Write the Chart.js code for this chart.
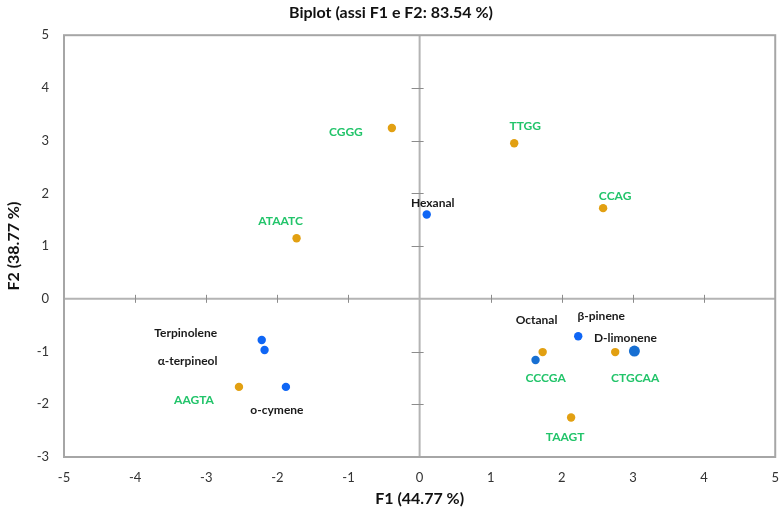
<!DOCTYPE html>
<html>
<head>
<meta charset="utf-8">
<script src="https://cdn.jsdelivr.net/npm/chart.js@4.4.1/dist/chart.umd.min.js"></script>
<style>
html,body{margin:0;padding:0;background:#fff;}
#wrap{width:784px;height:512px;}
</style>
</head>
<body>
<div id="wrap"><canvas id="c" width="784" height="512"></canvas></div>
<script>
// ---- data ----
const varLabels = ["Hexanal","Terpinolene","α-terpineol","o-cymene","Octanal","β-pinene","D-limonene"];
const varF1 = [0.10, -2.22, -2.18, -1.88, 1.63, 2.23, 3.02];
const varF2 = [1.60, -0.78, -0.97, -1.67, -1.16, -0.71, -0.99];

const obsLabels = ["CGGG","ATAATC","TTGG","CCAG","AAGTA","CCCGA","CTGCAA","TAAGT"];
const obsF1 = [-0.39, -1.73, 1.33, 2.58, -2.54, 1.73, 2.75, 2.13];
const obsF2 = [3.24, 1.15, 2.95, 1.72, -1.67, -1.01, -1.01, -2.25];

const xTicks = [-5,-4,-3,-2,-1,0,1,2,3,4,5];
const yTicks = [-3,-2,-1,0,1,2,3,4,5];

// ---- label placement (pixel offsets from the point) ----
const varOffsets = [[6,-11],[-76,-7],[-77,11],[-9,23],[1,-40],[23,-20],[-9,-13]];
const obsOffsets = [[-46,4],[-16,-17],[11,-17],[12,-12],[-45,13],[3,26],[20,26],[-6,20]];

const BLUE = '#0f66f5';
const DBLUE = '#176fd2';
const ORANGE = '#e2a012';
const GREEN = '#22c46a';

const varColors = varLabels.map((l,i)=> (i===4||i===6) ? DBLUE : BLUE);
const varRadius = varLabels.map((l,i)=> i===6 ? 5.5 : 4.2);

const labelFont = "bold 12px Lato, 'Open Sans', sans-serif";

const decor = {
  id:'decor',
  beforeDatasetsDraw(chart){
    const {ctx, chartArea:a, scales:{x,y}} = chart;
    ctx.save();
    ctx.strokeStyle = '#b4b4b4';
    ctx.lineWidth = 2;
    const x0 = x.getPixelForValue(0), y0 = y.getPixelForValue(0);
    ctx.beginPath();
    ctx.moveTo(x0, a.top); ctx.lineTo(x0, a.bottom);
    ctx.moveTo(a.left, y0); ctx.lineTo(a.right, y0);
    ctx.stroke();
    ctx.lineWidth = 1;
    ctx.strokeStyle = '#8c8c8c';
    ctx.beginPath();
    xTicks.forEach(v=>{ if(v===-5||v===5||v===0) return; const px=Math.round(x.getPixelForValue(v))+0.5; ctx.moveTo(px,y0-4); ctx.lineTo(px,y0+4);});
    yTicks.forEach(v=>{ if(v===-3||v===5||v===0) return; const py=Math.round(y.getPixelForValue(v))+0.5; ctx.moveTo(x0-8,py); ctx.lineTo(x0+4,py);});
    ctx.stroke();
    ctx.strokeStyle = '#a6a6a6';
    ctx.lineWidth = 2;
    ctx.strokeRect(a.left, a.top, a.right-a.left, a.bottom-a.top);
    ctx.restore();
  },
  afterDatasetsDraw(chart){
    const {ctx, scales:{x,y}} = chart;
    ctx.save();
    ctx.font = labelFont;
    ctx.textAlign = 'center';
    ctx.textBaseline = 'middle';
    ctx.fillStyle = '#1a1a1a';
    varLabels.forEach((l,i)=>{
      ctx.fillText(l, x.getPixelForValue(varF1[i])+varOffsets[i][0], y.getPixelForValue(varF2[i])+varOffsets[i][1]);
    });
    ctx.fillStyle = GREEN;
    obsLabels.forEach((l,i)=>{
      ctx.fillText(l, x.getPixelForValue(obsF1[i])+obsOffsets[i][0], y.getPixelForValue(obsF2[i])+obsOffsets[i][1]);
    });
    ctx.restore();
  }
};

new Chart(document.getElementById('c'), {
  type:'scatter',
  data:{
    datasets:[
      {label:'Variabili', data: varF1.map((v,i)=>({x:v,y:varF2[i]})), backgroundColor: varColors, borderColor: varColors, pointRadius: varRadius, borderWidth:0},
      {label:'Osservazioni', data: obsF1.map((v,i)=>({x:v,y:obsF2[i]})), backgroundColor: ORANGE, borderColor: ORANGE, pointRadius: 4.2, borderWidth:0}
    ]
  },
  plugins:[decor],
  options:{
    responsive:false,
    animation:false,
    layout:{padding:{left:0,right:2,top:0,bottom:0}},
    plugins:{
      legend:{display:false},
      tooltip:{enabled:false},
      title:{display:true, text:'Biplot (assi F1 e F2: 83.54 %)', color:'#111', font:{family:"Lato, 'Open Sans', sans-serif", size:16, weight:'bold'}, padding:{top:3,bottom:13}}
    },
    scales:{
      x:{
        type:'linear', min:-5, max:5,
        afterBuildTicks(s){ s.ticks = xTicks.map(v=>({value:v})); },
        afterFit(s){ s.height = 55; },
        grid:{display:false}, border:{display:false},
        ticks:{color:'#333', font:{family:"Lato, sans-serif", size:13}, padding:5},
        title:{display:true, text:'F1 (44.77 %)', color:'#111', font:{family:"Lato, sans-serif", size:16, weight:'bold'}, padding:{top:4}}
      },
      y:{
        type:'linear', min:-3, max:5,
        afterBuildTicks(s){ s.ticks = yTicks.map(v=>({value:v})); },
        afterFit(s){ s.width = 64; },
        grid:{display:false}, border:{display:false},
        ticks:{color:'#333', font:{family:"Lato, sans-serif", size:13}, padding:7},
        title:{display:true, text:'F2 (38.77 %)', color:'#111', font:{family:"Lato, sans-serif", size:16, weight:'bold'}, padding:{bottom:4}}
      }
    }
  }
});
</script>
</body>
</html>
